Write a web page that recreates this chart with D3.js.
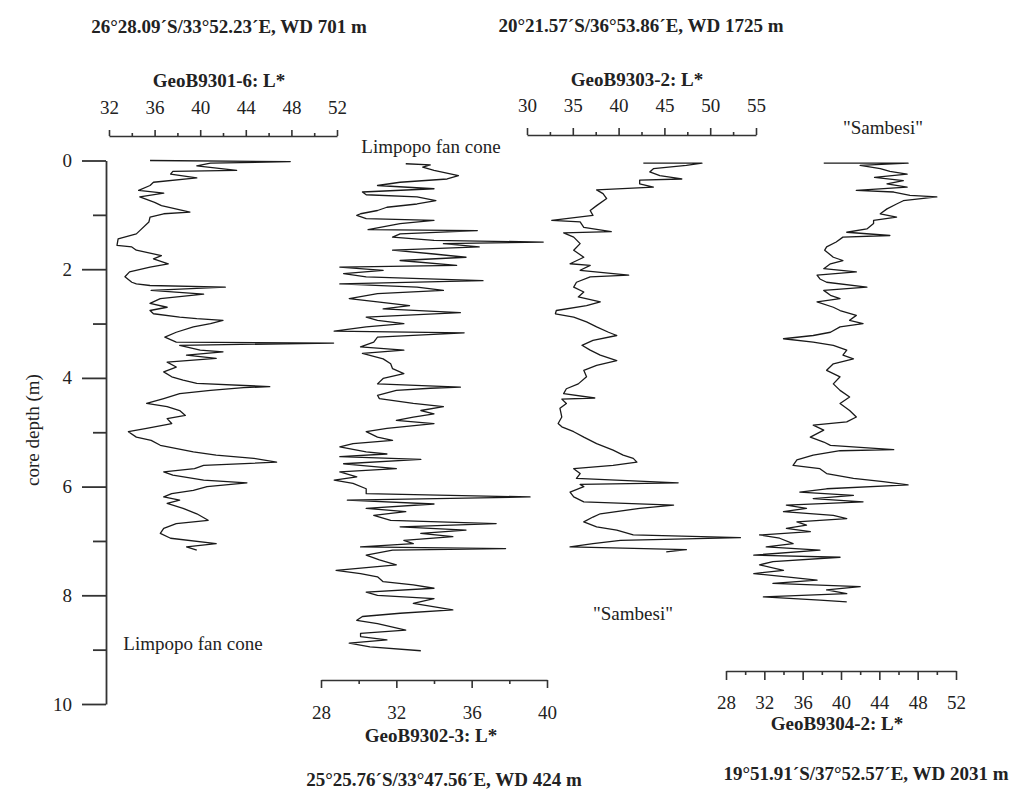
<!DOCTYPE html>
<html>
<head>
<meta charset="utf-8">
<script src="https://cdn.jsdelivr.net/npm/d3@7"></script>
<style>
  body { margin: 0; background: #fff; }
  svg { display: block; }
  text { font-family: "Liberation Serif", "Times New Roman", serif; fill: #222; }
</style>
</head>
<body>
<svg id="chart" width="1011" height="796"></svg>
<script>
// [depth (m), L*]
const core9301 = [[0.00,35.6],[0.02,47.9],[0.05,40.9],[0.10,39.7],[0.18,43.2],[0.20,37.6],[0.25,37.4],[0.32,39.7],[0.40,35.9],[0.46,35.6],[0.55,34.6],[0.60,36.8],[0.67,34.7],[0.77,36.0],[0.83,36.6],[0.95,39.1],[0.98,36.8],[1.04,35.6],[1.13,35.5],[1.29,34.7],[1.35,34.4],[1.44,32.8],[1.56,32.7],[1.59,34.0],[1.65,34.4],[1.75,36.6],[1.81,35.9],[1.90,37.2],[1.96,35.6],[2.05,33.8],[2.14,33.4],[2.24,34.0],[2.27,34.4],[2.30,35.6],[2.33,42.2],[2.39,35.7],[2.46,40.3],[2.54,36.5],[2.63,35.6],[2.70,37.1],[2.76,35.6],[2.82,35.9],[2.88,38.2],[2.91,39.7],[2.94,42.0],[3.00,40.9],[3.06,39.4],[3.16,37.9],[3.25,36.9],[3.34,37.9],[3.36,51.7],[3.40,38.2],[3.49,40.0],[3.52,42.0],[3.58,38.8],[3.64,41.4],[3.71,37.1],[3.80,37.9],[3.89,36.8],[3.98,37.5],[4.04,38.5],[4.10,39.7],[4.16,46.1],[4.18,43.8],[4.23,40.9],[4.29,38.2],[4.38,36.8],[4.47,35.3],[4.53,37.1],[4.60,38.2],[4.69,38.7],[4.75,37.1],[4.84,37.5],[4.93,35.3],[4.99,33.7],[5.09,34.4],[5.15,35.7],[5.24,36.5],[5.36,39.4],[5.42,41.4],[5.48,44.7],[5.55,46.7],[5.61,40.3],[5.67,39.5],[5.73,36.8],[5.79,37.6],[5.88,40.3],[5.93,44.1],[6.00,40.6],[6.07,39.4],[6.13,37.5],[6.19,36.8],[6.25,38.2],[6.31,37.1],[6.40,38.5],[6.50,39.7],[6.62,40.7],[6.68,37.9],[6.77,36.8],[6.86,36.5],[6.95,37.4],[7.05,41.4],[7.11,38.8],[7.17,39.7]];

const core9302 = [[0.06,32.5],[0.08,33.8],[0.12,33.4],[0.18,34.0],[0.28,35.3],[0.34,34.7],[0.40,32.2],[0.46,31.0],[0.52,34.0],[0.58,30.2],[0.63,30.4],[0.67,33.1],[0.74,34.1],[0.80,33.1],[0.86,31.5],[0.92,31.0],[0.98,30.1],[1.01,29.9],[1.07,30.4],[1.10,34.0],[1.16,32.2],[1.27,30.5],[1.29,36.3],[1.35,32.2],[1.41,31.8],[1.47,34.0],[1.50,39.8],[1.53,34.5],[1.59,36.4],[1.65,31.8],[1.72,34.0],[1.78,35.7],[1.84,32.2],[1.93,35.2],[1.96,29.0],[2.02,31.3],[2.08,29.2],[2.14,30.4],[2.21,36.6],[2.27,29.0],[2.33,33.1],[2.39,34.5],[2.45,31.0],[2.54,29.5],[2.60,31.0],[2.67,32.7],[2.73,31.3],[2.80,35.4],[2.88,30.4],[2.94,31.0],[3.00,32.4],[3.06,30.4],[3.14,28.7],[3.17,35.6],[3.25,31.0],[3.34,30.8],[3.43,30.1],[3.49,32.4],[3.55,30.2],[3.65,31.3],[3.74,31.7],[3.83,31.8],[3.92,32.4],[4.01,31.3],[4.11,31.0],[4.17,35.4],[4.19,33.8],[4.23,32.0],[4.32,31.0],[4.38,31.1],[4.47,32.9],[4.53,34.5],[4.60,33.3],[4.66,34.0],[4.72,32.9],[4.78,32.0],[4.84,34.0],[4.93,31.5],[4.99,30.4],[5.09,31.0],[5.15,31.8],[5.21,29.7],[5.27,29.0],[5.36,30.4],[5.40,31.5],[5.45,29.0],[5.50,33.3],[5.58,29.2],[5.67,32.0],[5.73,29.0],[5.82,29.9],[5.88,28.7],[5.94,29.7],[6.04,30.4],[6.13,30.4],[6.19,39.1],[6.25,29.4],[6.32,34.0],[6.40,30.4],[6.46,32.5],[6.53,30.8],[6.62,31.7],[6.68,37.3],[6.74,32.2],[6.80,35.7],[6.86,33.3],[6.92,35.0],[6.99,32.4],[7.05,32.9],[7.11,30.1],[7.14,37.8],[7.17,31.8],[7.26,30.4],[7.35,31.1],[7.44,32.0],[7.54,28.8],[7.60,30.1],[7.66,31.0],[7.75,31.3],[7.81,32.9],[7.87,34.0],[7.94,30.4],[8.00,31.0],[8.06,34.0],[8.15,32.9],[8.27,35.0],[8.33,32.2],[8.39,30.2],[8.46,29.9],[8.52,31.0],[8.64,32.5],[8.70,30.1],[8.76,30.1],[8.82,31.5],[8.88,29.5],[8.95,30.6],[9.02,33.3]];

const core9303 = [[0.05,42.7],[0.05,49.1],[0.09,47.4],[0.15,43.8],[0.21,43.4],[0.28,44.5],[0.34,46.9],[0.36,42.3],[0.43,42.3],[0.49,43.8],[0.54,37.6],[0.61,38.3],[0.70,38.7],[0.83,37.6],[0.92,36.9],[1.01,37.2],[1.10,32.7],[1.13,35.8],[1.23,36.2],[1.31,39.2],[1.33,34.0],[1.41,35.1],[1.53,35.8],[1.65,35.1],[1.78,36.2],[1.90,34.7],[1.93,36.9],[2.02,35.8],[2.11,41.1],[2.14,36.9],[2.24,35.4],[2.33,35.1],[2.42,36.2],[2.51,35.6],[2.60,38.0],[2.67,36.5],[2.76,33.2],[2.82,33.1],[2.88,35.1],[2.97,36.5],[3.06,37.6],[3.16,38.9],[3.22,39.8],[3.31,37.2],[3.40,36.0],[3.49,36.9],[3.58,38.0],[3.68,39.8],[3.77,37.6],[3.86,36.2],[3.98,36.5],[4.11,35.6],[4.20,34.3],[4.29,34.0],[4.37,37.4],[4.39,33.8],[4.47,34.3],[4.56,33.6],[4.72,33.8],[4.84,33.4],[4.90,33.8],[4.99,35.1],[5.09,36.2],[5.21,37.6],[5.33,39.4],[5.42,40.5],[5.48,41.6],[5.55,42.0],[5.61,39.4],[5.67,35.1],[5.76,35.8],[5.85,35.4],[5.93,46.5],[5.96,35.8],[6.00,36.2],[6.10,34.7],[6.19,35.1],[6.28,36.2],[6.34,46.0],[6.40,42.3],[6.50,38.0],[6.56,37.2],[6.65,36.2],[6.74,37.6],[6.80,39.8],[6.89,41.6],[6.94,53.3],[6.99,40.2],[7.05,37.2],[7.11,34.7],[7.16,47.4],[7.20,45.2]];

const core9304 = [[0.05,38.2],[0.05,47.0],[0.09,42.0],[0.15,44.1],[0.20,45.1],[0.25,46.9],[0.31,43.5],[0.37,46.5],[0.43,44.8],[0.49,46.9],[0.55,41.6],[0.58,45.5],[0.64,47.2],[0.67,50.0],[0.74,46.5],[0.80,45.8],[0.89,44.8],[0.98,44.1],[1.04,45.8],[1.10,43.4],[1.16,43.4],[1.26,42.7],[1.32,40.6],[1.38,45.1],[1.41,40.2],[1.50,39.5],[1.59,38.5],[1.65,38.3],[1.78,39.2],[1.84,40.2],[1.90,38.9],[1.99,38.2],[2.05,41.6],[2.11,37.5],[2.18,37.8],[2.24,38.5],[2.33,42.7],[2.39,38.2],[2.48,38.9],[2.54,39.9],[2.60,37.5],[2.70,39.2],[2.76,39.9],[2.85,41.6],[2.94,40.9],[3.00,42.3],[3.06,39.9],[3.16,38.9],[3.22,37.1],[3.28,34.0],[3.34,37.1],[3.40,39.2],[3.49,40.6],[3.58,40.2],[3.65,41.3],[3.74,39.2],[3.86,38.5],[3.98,39.9],[4.11,39.2],[4.23,39.9],[4.35,40.9],[4.47,39.9],[4.60,40.9],[4.72,41.6],[4.81,40.6],[4.87,37.1],[4.96,38.2],[5.09,36.8],[5.18,38.2],[5.24,38.9],[5.32,45.5],[5.34,39.9],[5.42,37.1],[5.51,35.4],[5.61,35.0],[5.67,37.8],[5.76,38.5],[5.85,41.3],[5.91,44.4],[5.97,47.0],[6.04,38.5],[6.10,35.7],[6.16,41.3],[6.22,37.1],[6.28,42.3],[6.34,34.3],[6.40,36.4],[6.46,34.0],[6.53,39.2],[6.59,40.6],[6.65,35.4],[6.71,36.4],[6.77,34.3],[6.83,36.8],[6.89,31.5],[6.95,33.6],[7.05,35.0],[7.11,32.2],[7.17,37.8],[7.26,30.9],[7.30,39.9],[7.38,32.9],[7.44,31.5],[7.54,34.0],[7.60,30.9],[7.66,34.3],[7.72,37.5],[7.78,32.9],[7.84,42.0],[7.90,38.5],[7.97,40.6],[8.03,31.9],[8.09,37.8],[8.12,40.6]];

// tick values
const depthTicks = [0, 1, 2, 3, 4, 5, 6, 7, 8, 9, 10];
const depthLabels = [0, 2, 4, 6, 8, 10];
const ticks9301 = [32, 34, 36, 38, 40, 42, 44, 46, 48, 50, 52];
const labels9301 = [32, 36, 40, 44, 48, 52];
const ticks9302 = [28, 30, 32, 34, 36, 38, 40];
const labels9302 = [28, 32, 36, 40];
const ticks9303 = [30, 32.5, 35, 37.5, 40, 42.5, 45, 47.5, 50, 52.5, 55];
const labels9303 = [30, 35, 40, 45, 50, 55];
const ticks9304 = [28, 30, 32, 34, 36, 38, 40, 42, 44, 46, 48, 50, 52];
const labels9304 = [28, 32, 36, 40, 44, 48, 52];

const svg = d3.select("#chart");
const FONT = 19;

svg.append("rect").attr("width", 1011).attr("height", 796).attr("fill", "#fff");

// shared depth scale
const y = d3.scaleLinear().domain([0, 10]).range([160.5, 704]);

const depthAxis = svg.append("g")
    .attr("transform", "translate(106,0)")
    .call(d3.axisLeft(y)
        .tickValues(depthTicks)
        .tickSize(24)
        .tickSizeOuter(0)
        .tickPadding(10)
        .tickFormat(d => depthLabels.includes(d) ? d : ""));
depthAxis.attr("font-family", null).attr("font-size", FONT);
depthAxis.selectAll(".tick line").attr("x2", d => depthLabels.includes(d) ? -24 : -13);
depthAxis.selectAll("line, path").attr("stroke", "#333").attr("stroke-width", 1.8);
depthAxis.selectAll("text").attr("fill", "#222");

svg.append("text")
    .attr("transform", "translate(39,430) rotate(-90)")
    .attr("text-anchor", "middle")
    .style("font-size", FONT + "px")
    .text("core depth (m)");

const panels = [
    { title: "GeoB9301-6: L*", data: core9301, domain: [32, 52], range: [109, 337],
      ticks: ticks9301, labels: labels9301, side: "top", axisY: 136, pad: 16, major: 6, minor: 3,
      titleX: 219, titleY: 80, header: "26°28.09´S/33°52.23´E, WD 701 m", headerX: 229, headerY: 26 },
    { title: "GeoB9302-3: L*", data: core9302, domain: [28, 40], range: [321, 547],
      ticks: ticks9302, labels: labels9302, side: "bottom", axisY: 680, pad: 18, major: 8, minor: 4,
      titleX: 431, titleY: 735, header: "25°25.76´S/33°47.56´E, WD 424 m", headerX: 444, headerY: 779 },
    { title: "GeoB9303-2: L*", data: core9303, domain: [30, 55], range: [527, 756],
      ticks: ticks9303, labels: labels9303, side: "top", axisY: 135, pad: 16, major: 7, minor: 3,
      titleX: 637, titleY: 79, header: "20°21.57´S/36°53.86´E, WD 1725 m", headerX: 641, headerY: 25 },
    { title: "GeoB9304-2: L*", data: core9304, domain: [28, 52], range: [726, 956],
      ticks: ticks9304, labels: labels9304, side: "bottom", axisY: 671, pad: 16, major: 9, minor: 4,
      titleX: 837, titleY: 723, header: "19°51.91´S/37°52.57´E, WD 2031 m", headerX: 866, headerY: 773 }
];

panels.forEach(p => {
    const x = d3.scaleLinear().domain(p.domain).range(p.range);
    const axisFn = p.side === "top" ? d3.axisTop(x) : d3.axisBottom(x);
    const g = svg.append("g")
        .attr("transform", `translate(0,${p.axisY})`)
        .call(axisFn
            .tickValues(p.ticks)
            .tickSize(p.major)
            .tickSizeOuter(0)
            .tickPadding(p.pad)
            .tickFormat(d => p.labels.includes(d) ? d : ""));
    g.attr("font-family", null).attr("font-size", FONT);
    const dir = p.side === "top" ? -1 : 1;
    g.selectAll(".tick line").attr("y2", d => dir * (p.labels.includes(d) ? p.major : p.minor));
    g.selectAll("line, path").attr("stroke", "#333").attr("stroke-width", 1.6);
    g.selectAll("text").attr("fill", "#222");

    svg.append("text")
        .attr("x", p.titleX).attr("y", p.titleY).attr("dy", "0.35em")
        .attr("text-anchor", "middle")
        .style("font-size", FONT + "px").style("font-weight", "bold")
        .text(p.title);

    svg.append("text")
        .attr("x", p.headerX).attr("y", p.headerY).attr("dy", "0.35em")
        .attr("text-anchor", "middle")
        .style("font-size", FONT + "px").style("font-weight", "bold")
        .text(p.header);

    const line = d3.line()
        .x(d => x(d[1]))
        .y(d => y(d[0]));

    svg.append("path")
        .datum(p.data)
        .attr("d", line)
        .attr("fill", "none")
        .attr("stroke", "#1a1a1a")
        .attr("stroke-width", 1.3)
        .attr("stroke-linejoin", "round");
});

// site labels
const notes = [
    { text: "Limpopo fan cone", x: 431, y: 146 },
    { text: "Limpopo fan cone", x: 193, y: 643 },
    { text: "\"Sambesi\"", x: 883, y: 127 },
    { text: "\"Sambesi\"", x: 633, y: 613 }
];
svg.selectAll("text.note")
    .data(notes)
    .join("text")
    .attr("class", "note")
    .attr("x", d => d.x).attr("y", d => d.y).attr("dy", "0.35em")
    .attr("text-anchor", "middle")
    .style("font-size", FONT + "px")
    .text(d => d.text);
</script>
</body>
</html>
